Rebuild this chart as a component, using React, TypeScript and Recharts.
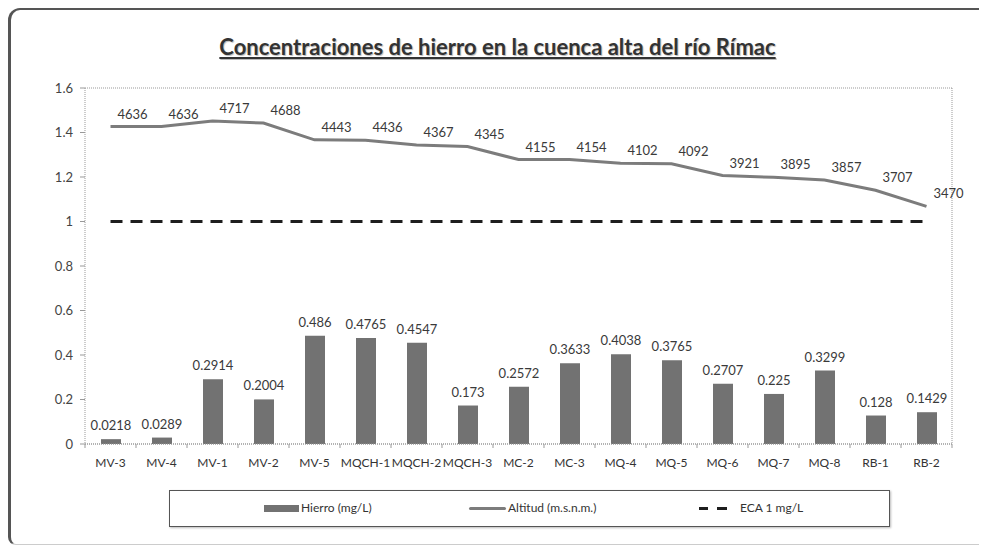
import { ComposedChart, Bar, Line, XAxis, YAxis, CartesianGrid, LabelList, Legend } from 'recharts';

const estaciones = [
  'MV-3', 'MV-4', 'MV-1', 'MV-2', 'MV-5', 'MQCH-1', 'MQCH-2', 'MQCH-3', 'MC-2',
  'MC-3', 'MQ-4', 'MQ-5', 'MQ-6', 'MQ-7', 'MQ-8', 'RB-1', 'RB-2',
];
const hierro = [
  0.0218, 0.0289, 0.2914, 0.2004, 0.486, 0.4765, 0.4547, 0.173, 0.2572,
  0.3633, 0.4038, 0.3765, 0.2707, 0.225, 0.3299, 0.128, 0.1429,
];
const altitud = [
  4636, 4636, 4717, 4688, 4443, 4436, 4367, 4345, 4155,
  4154, 4102, 4092, 3921, 3895, 3857, 3707, 3470,
];
const eca = [1, 1, 1, 1, 1, 1, 1, 1, 1, 1, 1, 1, 1, 1, 1, 1, 1];
const yTicks = [0, 0.2, 0.4, 0.6, 0.8, 1, 1.2, 1.4, 1.6];

const data = estaciones.map((name, i) => ({
  name,
  hierro: hierro[i],
  altitud: altitud[i],
  eca: eca[i],
}));

const FONT = 'Lato, "Open Sans", sans-serif';
const BAR = '#727272';
const ALT = '#7c7c7c';
const ECA = '#1e1e1e';

const AltLabel = (props: any) => {
  const { x, y, value } = props;
  return (
    <text x={x + 22} y={y - 8} textAnchor="middle" fontSize={13} fill="#3a3a3a" fontFamily={FONT}>
      {value}
    </text>
  );
};

const XTick = (props: any) => {
  const { x, y, payload, index } = props;
  const half = 25.5;
  return (
    <g>
      <line x1={x - half} y1={y - 8} x2={x - half} y2={y - 4} stroke="#999" />
      {index === estaciones.length - 1 && (
        <line x1={x + half} y1={y - 8} x2={x + half} y2={y - 4} stroke="#999" />
      )}
      <text x={x} y={y + 15} textAnchor="middle" fontSize={12} fill="#333" fontFamily={FONT}>
        {payload.value}
      </text>
    </g>
  );
};

const LegendBox = () => (
  <div
    style={{
      position: 'absolute',
      left: 158,
      top: 480,
      width: 719,
      height: 35,
      border: '1.5px solid #555',
      boxShadow: '1px 1px 2px #bbb',
      fontFamily: FONT,
      fontSize: 12,
      color: '#333',
      background: '#fff',
    }}
  >
    <div style={{ position: 'absolute', left: 94, top: 14, width: 35, height: 7, background: BAR }} />
    <div style={{ position: 'absolute', left: 131, top: 9 }}>Hierro (mg/L)</div>
    <div style={{ position: 'absolute', left: 299, top: 16, width: 37, height: 3, background: ALT, borderRadius: 2 }} />
    <div style={{ position: 'absolute', left: 338, top: 9 }}>Altitud (m.s.n.m.)</div>
    <div style={{ position: 'absolute', left: 529, top: 16, width: 9, height: 3, background: ECA }} />
    <div style={{ position: 'absolute', left: 547, top: 16, width: 10, height: 3, background: ECA }} />
    <div style={{ position: 'absolute', left: 570, top: 9 }}>ECA 1 mg/L</div>
  </div>
);

export default function App() {
  return (
    <div
      style={{
        position: 'relative',
        width: 976,
        height: 534,
        borderTop: '2px solid #555',
        borderLeft: '3px solid #555',
        borderBottom: '1px solid #ccc',
        borderTopLeftRadius: 12,
        borderBottomLeftRadius: 8,
        background: '#fff',
        overflow: 'hidden',
      }}
    >
      <div
        style={{
          position: 'absolute',
          left: -3,
          top: 23,
          width: 979,
          textAlign: 'center',
          fontFamily: FONT,
          fontWeight: 700,
          fontSize: 22,
          color: '#333',
          textDecoration: 'underline',
          textShadow: '1px 1px 1px #bbb',
        }}
      >
        Concentraciones de hierro en la cuenca alta del río Rímac
      </div>
      <div style={{ position: 'absolute', left: -3, top: -2 }}>
        <ComposedChart
          width={979}
          height={537}
          data={data}
          margin={{ top: 80, right: 35, bottom: 71, left: 0 }}
        >
          <CartesianGrid
            stroke="#999"
            strokeDasharray="1 1"
            verticalCoordinatesGenerator={({ offset }: any) => [offset.left + offset.width]}
          />
          <XAxis
            dataKey="name"
            height={30}
            axisLine={{ stroke: '#999', strokeDasharray: '1 1' }}
            tickLine={false}
            tick={<XTick />}
            interval={0}
          />
          <YAxis
            yAxisId="fe"
            width={77}
            domain={[0, 1.6]}
            ticks={yTicks}
            axisLine={{ stroke: '#999', strokeDasharray: '1 1' }}
            tickLine={{ stroke: '#999' }}
            tickSize={5}
            tickMargin={7}
            tick={{ fontSize: 13, fill: '#444', fontFamily: FONT }}
          />
          <YAxis yAxisId="alt" orientation="right" domain={[0, 5200]} hide />
          <Bar yAxisId="fe" dataKey="hierro" fill={BAR} barSize={20} isAnimationActive={false}>
            <LabelList dataKey="hierro" position="top" offset={9} fontSize={13} fill="#3a3a3a" fontFamily={FONT} />
          </Bar>
          <Line
            yAxisId="alt"
            dataKey="altitud"
            stroke={ALT}
            strokeWidth={3}
            dot={false}
            type="linear"
            isAnimationActive={false}
          >
            <LabelList dataKey="altitud" content={<AltLabel />} />
          </Line>
          <Line
            yAxisId="fe"
            dataKey="eca"
            stroke={ECA}
            strokeWidth={3}
            strokeDasharray="12 8"
            dot={false}
            type="linear"
            isAnimationActive={false}
          />
          <Legend content={() => null} />
        </ComposedChart>
      </div>
      <LegendBox />
    </div>
  );
}
